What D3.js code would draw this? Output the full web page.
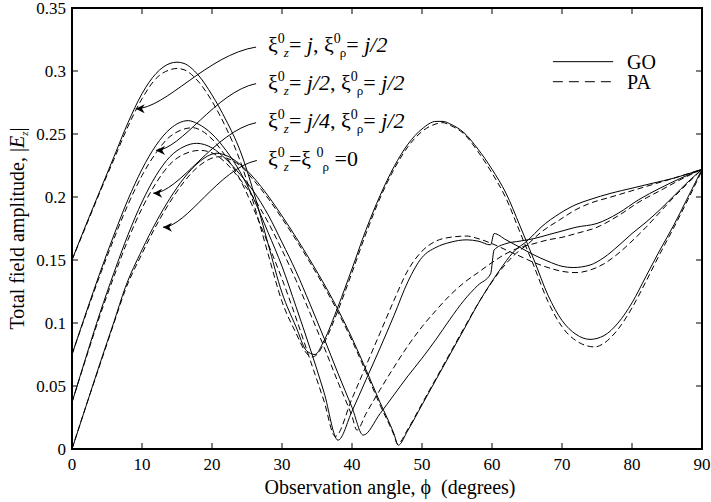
<!DOCTYPE html>
<html><head><meta charset="utf-8">
<script src="https://cdn.jsdelivr.net/npm/d3@7"></script>
<style>
body{margin:0;background:#fff;}
svg text{font-family:'Liberation Serif',serif;fill:#000;white-space:pre;}
</style></head><body>
<svg id="chart" width="711" height="502" font-family="Liberation Serif"></svg>
<script>
// ---- axis ticks ----
const xTicks = [0,10,20,30,40,50,60,70,80,90];
const yTicks = [0,0.05,0.1,0.15,0.2,0.25,0.3,0.35];
const yTickLabels = ["0","0.05","0.1","0.15","0.2","0.25","0.3","0.35"];
const xTitle = "Observation angle, \u03d5  (degrees)";

// ---- series: [angle (deg), |Ez|] ----
const goA = [[0,0.150],[2,0.178],[4,0.205],[6,0.232],[8,0.259],[10,0.282],[12,0.298],[14,0.306],[15,0.307],[16,0.306],[18,0.297],[20,0.281],[22,0.261],[24,0.237],[26,0.203],[28,0.163],[30,0.124],[32,0.097],[33.5,0.078],[34.7,0.075],[36,0.086],[38,0.113],[40,0.143],[42,0.174],[44,0.201],[46,0.224],[48,0.242],[50,0.254],[52,0.26],[53,0.26],[54,0.258],[56,0.251],[58,0.238],[60,0.222],[62,0.203],[64,0.177],[66,0.15],[68,0.122],[70,0.102],[72,0.091],[74,0.087],[76,0.09],[78,0.1],[80,0.116],[82,0.137],[84,0.158],[86,0.178],[88,0.2],[90,0.222]];
const paA = [[0,0.150],[2,0.177],[4,0.204],[6,0.23],[8,0.256],[10,0.278],[12,0.294],[14,0.301],[15,0.302],[16,0.301],[18,0.292],[20,0.276],[22,0.255],[24,0.229],[26,0.194],[28,0.155],[30,0.117],[32,0.092],[33.5,0.076],[34.2,0.073],[35,0.075],[36,0.084],[38,0.11],[40,0.14],[42,0.171],[44,0.199],[46,0.222],[48,0.24],[50,0.252],[52,0.258],[53,0.259],[54,0.257],[56,0.25],[58,0.236],[60,0.219],[62,0.199],[64,0.172],[66,0.145],[68,0.117],[70,0.097],[72,0.086],[74.7,0.081],[76,0.084],[78,0.095],[80,0.112],[82,0.133],[84,0.155],[86,0.176],[88,0.198],[90,0.221]];
const goB = [[0,0.075],[2,0.108],[4,0.14],[6,0.17],[8,0.198],[10,0.222],[12,0.241],[14,0.254],[16.6,0.2606],[18,0.258],[20,0.25],[22,0.237],[24,0.22],[26,0.198],[28,0.172],[30,0.145],[32,0.113],[34,0.08],[36,0.045],[38,0.007],[40,0.03],[42,0.055],[44,0.08],[46,0.106],[48,0.133],[50,0.152],[52,0.16],[54,0.164],[56.4,0.166],[58,0.165],[59.8,0.162],[60.3,0.171],[62,0.166],[64,0.16],[66,0.154],[68,0.149],[70,0.145],[71.6,0.144],[74,0.146],[76,0.152],[78,0.161],[80,0.171],[82,0.18],[84,0.19],[86,0.201],[88,0.212],[90,0.222]];
const paB = [[0,0.075],[2,0.107],[4,0.138],[6,0.167],[8,0.194],[10,0.217],[12,0.235],[14,0.248],[17.3,0.255],[18,0.254],[20,0.246],[22,0.232],[24,0.214],[26,0.19],[28,0.163],[30,0.135],[32,0.104],[34,0.071],[36,0.038],[37.6,0.01],[40,0.04],[42,0.066],[44,0.092],[46,0.118],[48,0.142],[50,0.157],[52,0.165],[54,0.168],[56.4,0.169],[58,0.167],[60,0.163],[62,0.158],[64,0.153],[66,0.148],[68,0.144],[70,0.141],[72,0.14],[74,0.142],[76,0.147],[78,0.155],[80,0.165],[82,0.176],[84,0.188],[86,0.2],[88,0.211],[90,0.222]];
const goC = [[0,0.037],[2,0.073],[4,0.108],[6,0.14],[8,0.17],[10,0.196],[12,0.217],[14,0.232],[16,0.24],[17.8,0.2426],[20,0.239],[22,0.23],[24,0.218],[26,0.204],[28,0.186],[30,0.164],[32,0.141],[34,0.115],[36,0.088],[38,0.06],[40,0.033],[41.6,0.011],[44,0.028],[46,0.043],[48,0.058],[50,0.072],[52,0.087],[54,0.103],[56,0.118],[58,0.13],[59.8,0.139],[60.3,0.158],[62,0.163],[64,0.165],[66,0.167],[68,0.17],[70,0.173],[72,0.176],[75,0.179],[78,0.187],[81,0.198],[84,0.207],[87,0.215],[90,0.222]];
const paC = [[0,0.037],[2,0.072],[4,0.106],[6,0.137],[8,0.166],[10,0.191],[12,0.211],[14,0.226],[16,0.234],[18.3,0.237],[20,0.235],[22,0.227],[24,0.214],[26,0.199],[28,0.18],[30,0.158],[32,0.134],[34,0.108],[36,0.081],[38,0.053],[40,0.026],[40.7,0.015],[42,0.028],[44,0.047],[46,0.065],[48,0.082],[50,0.097],[52,0.11],[54,0.122],[56,0.132],[58,0.14],[60,0.148],[62,0.155],[64,0.16],[66,0.163],[68,0.166],[70,0.168],[72,0.171],[75,0.176],[78,0.185],[81,0.196],[84,0.205],[87,0.214],[90,0.222]];
const goD = [[0,0],[2,0.034],[4,0.068],[6,0.101],[7.6,0.128],[10,0.158],[12,0.18],[14,0.199],[16,0.215],[18,0.227],[20.7,0.2347],[22,0.233],[24,0.226],[26,0.215],[28,0.201],[30,0.185],[32,0.168],[34,0.15],[35.7,0.134],[37.3,0.118],[40,0.088],[42,0.063],[44,0.037],[46,0.012],[46.6,0.003],[48,0.015],[50,0.035],[52,0.055],[54,0.075],[56,0.095],[58.3,0.118],[61.1,0.142],[63,0.156],[65.2,0.166],[67,0.176],[69.7,0.187],[72,0.194],[74,0.198],[77,0.203],[80,0.207],[83,0.211],[86,0.215],[90,0.222]];
const paD = [[0,0],[2,0.034],[4,0.067],[6,0.1],[7.6,0.126],[10,0.155],[12,0.177],[14,0.196],[16,0.212],[18,0.224],[21.1,0.232],[22,0.231],[24,0.225],[26,0.213],[28,0.199],[30,0.183],[32,0.166],[34,0.148],[35.7,0.132],[37.3,0.116],[40,0.086],[42,0.061],[44,0.035],[46,0.011],[46.5,0.004],[48,0.016],[50,0.036],[52,0.056],[54,0.076],[56,0.096],[58.3,0.118],[61.1,0.141],[63,0.153],[65.2,0.163],[67,0.172],[69.7,0.182],[72,0.19],[74,0.195],[77,0.2],[80,0.205],[83,0.21],[86,0.215],[90,0.222]];

// ---- curve labels: text parts, label position and arrow tip (data units) ----
const labelParts = [
  [["\u03be","n"],["0","sup"],["z","sub"],["= ","n"],["j","i"],[", ","n"],["\u03be","n"],["0","sup"],["\u03c1","sub"],["= ","n"],["j/2","i"]],
  [["\u03be","n"],["0","sup"],["z","sub"],["= ","n"],["j/2","i"],[", ","n"],["\u03be","n"],["0","sup"],["\u03c1","sub"],["= ","n"],["j/2","i"]],
  [["\u03be","n"],["0","sup"],["z","sub"],["= ","n"],["j/4","i"],[", ","n"],["\u03be","n"],["0","sup"],["\u03c1","sub"],["= ","n"],["j/2","i"]],
  [["\u03be","n"],["0","sup"],["z","sub"],["=\u03be ","n"],["0","sup"],["\u03c1","sub"],[" =0","n"]]
];
const labelPos = [[28,0.315],[28,0.285],[28,0.255],[28,0.2245]];
const arrowStart = [[26.3,0.319],[26.3,0.29],[26.3,0.259],[26.4,0.229]];
const arrowTip = [[9.1,0.27],[12,0.237],[11.6,0.203],[13,0.176]];

// ---- legend ----
const legendNames = ["GO","PA"];
const legendY = [0.3074,0.2915];
const legendX = [68.7,77.3,79.3];

const FONT = "'Liberation Serif', serif";
const x = d3.scaleLinear().domain([0,90]).range([72,702]);
const y = d3.scaleLinear().domain([0,0.35]).range([449,8]);
const svg = d3.select("#chart").attr("font-family",FONT);

// ticks (inward, all four sides)
const tl = 6;
const gt = svg.append("g").attr("stroke","#000").attr("stroke-width",1);
xTicks.forEach(v=>{
  gt.append("line").attr("x1",x(v)).attr("x2",x(v)).attr("y1",y(0)).attr("y2",y(0)-tl);
  gt.append("line").attr("x1",x(v)).attr("x2",x(v)).attr("y1",y(0.35)).attr("y2",y(0.35)+tl);
});
yTicks.forEach(v=>{
  gt.append("line").attr("x1",x(0)).attr("x2",x(0)+tl).attr("y1",y(v)).attr("y2",y(v));
  gt.append("line").attr("x1",x(90)).attr("x2",x(90)-tl).attr("y1",y(v)).attr("y2",y(v));
});
// tick labels
svg.append("g").selectAll("text").data(xTicks).join("text")
  .attr("font-family",FONT).attr("x",d=>x(d)).attr("y",y(0)+21).attr("text-anchor","middle")
  .style("font-size","17px").text(d=>d);
svg.append("g").selectAll("text").data(yTicks).join("text")
  .attr("font-family",FONT).attr("x",x(0)-6).attr("y",d=>y(d)+5.5).attr("text-anchor","end")
  .style("font-size","17px").text((d,i)=>yTickLabels[i]);

// axis titles
svg.append("text").attr("font-family",FONT).attr("x",(x(0)+x(90))/2+3).attr("y",494).attr("text-anchor","middle")
  .style("font-size","20px").text(xTitle);
const yt = svg.append("text").attr("font-family",FONT).attr("transform",`translate(24,${(y(0)+y(0.35))/2}) rotate(-90)`)
  .attr("text-anchor","middle").style("font-size","20px");
yt.append("tspan").text("Total field amplitude, |");
yt.append("tspan").style("font-style","italic").text("E");
yt.append("tspan").style("font-size","11px").style("font-style","italic").attr("dy",4).text("z");
yt.append("tspan").attr("dy",-4).text("|");

// curves
const line = d3.line().x(d=>x(d[0])).y(d=>y(d[1])).curve(d3.curveMonotoneX);
const series = [
  {d:goA,dash:null},{d:paA,dash:"6,3.5"},
  {d:goB,dash:null},{d:paB,dash:"6,3.5"},
  {d:goC,dash:null},{d:paC,dash:"6,3.5"},
  {d:goD,dash:null},{d:paD,dash:"6,3.5"}
];
svg.append("g").selectAll("path").data(series).join("path")
  .attr("d",s=>line(s.d)).attr("fill","none").attr("stroke","#000")
  .attr("stroke-width",1).attr("stroke-dasharray",s=>s.dash);

// frame
svg.append("rect").attr("x",x(0)).attr("y",y(0.35)).attr("width",x(90)-x(0)).attr("height",y(0)-y(0.35))
  .attr("fill","none").attr("stroke","#000").attr("stroke-width",2);

// arrows
svg.append("defs").append("marker").attr("id","ah").attr("viewBox","0 0 10 10")
  .attr("refX",10).attr("refY",5).attr("markerWidth",11).attr("markerHeight",9)
  .attr("markerUnits","userSpaceOnUse").attr("orient","auto")
  .append("path").attr("d","M0,0 L10,5 L0,10 L3,5 Z").attr("fill","#000");
arrowStart.forEach((s,i)=>{
  const S=[x(s[0]),y(s[1])], T=[x(arrowTip[i][0]),y(arrowTip[i][1])];
  const dx=S[0]-T[0], dy=T[1]-S[1];
  const p=d3.path();
  p.moveTo(S[0],S[1]);
  p.bezierCurveTo(S[0]-0.4*dx,S[1]+0.12*dy,T[0]+0.25*dx,T[1],T[0],T[1]);
  svg.append("path").attr("d",p.toString()).attr("fill","none").attr("stroke","#000")
    .attr("stroke-width",1).attr("marker-end","url(#ah)");
});

// labels
const offs = {n:0,i:0,sup:-9,sub:5};
labelParts.forEach((parts,i)=>{
  const t = svg.append("text").attr("font-family",FONT).attr("x",x(labelPos[i][0])).attr("y",y(labelPos[i][1])).style("font-size","22px");
  let cur=0, prev=null;
  parts.forEach(([txt,k])=>{
    const ts=t.append("tspan").text(txt);
    const dy=offs[k]-cur; if(dy) ts.attr("dy",dy); cur=offs[k];
    if(k==="i") ts.style("font-style","italic");
    if(k==="sup") ts.style("font-size","14px");
    if(k==="sub"){ ts.style("font-size","13px").style("font-style", txt==="z"?"italic":"normal"); if(prev==="sup") ts.attr("dx",-1); }
    prev=k;
  });
});

// legend
svg.append("line").attr("x1",x(legendX[0])).attr("x2",x(legendX[1])).attr("y1",y(legendY[0])).attr("y2",y(legendY[0])).attr("stroke","#000");
svg.append("line").attr("x1",x(legendX[0])).attr("x2",x(legendX[1])).attr("y1",y(legendY[1])).attr("y2",y(legendY[1])).attr("stroke","#000").attr("stroke-dasharray","10,6");
legendNames.forEach((n,i)=>{
  svg.append("text").attr("font-family",FONT).attr("x",x(legendX[2])).attr("y",y(legendY[i])+7).style("font-size","20px").text(n);
});
</script></body></html>
